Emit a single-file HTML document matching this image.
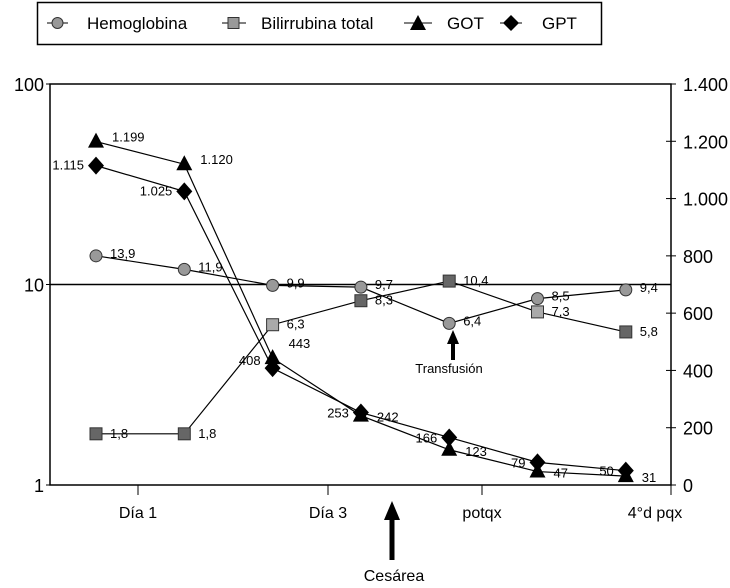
<!DOCTYPE html>
<html><head><meta charset="utf-8"><style>
body{margin:0;background:#fff;}
svg{display:block;font-family:"Liberation Sans",sans-serif;}
</style></head><body>
<svg id="chart" width="730" height="588">
<g>
<rect x="37.5" y="2.5" width="564" height="42" fill="#fff" stroke="#000" stroke-width="1.5"/>
<g><line x1="47" y1="23" x2="68" y2="23" stroke="#000"/><circle cx="57.5" cy="23" r="5.5" fill="#999" stroke="#333"/><text x="87" y="29" font-size="17">Hemoglobina</text></g>
<g><line x1="222" y1="23" x2="246" y2="23" stroke="#000"/><rect x="228" y="17.5" width="11" height="11" fill="#999" stroke="#333"/><text x="261" y="29" font-size="17">Bilirrubina total</text></g>
<g><line x1="404" y1="23" x2="432" y2="23" stroke="#000"/><polygon points="418,15 426,30 410,30" fill="#000"/><text x="447" y="29" font-size="17">GOT</text></g>
<g><line x1="500" y1="23" x2="522" y2="23" stroke="#000"/><polygon points="511,15 519,23 511,31 503,23" fill="#000"/><text x="542" y="29" font-size="17">GPT</text></g>
</g>
<g id="plot"></g>
</svg>
<script>
const categories=["Día 1","","","Día 3","potqx","","4°d pqx"];
const hemoglobina=[13.9,11.9,9.9,9.7,6.4,8.5,9.4];
const bilirrubina=[1.8,1.8,6.3,8.3,10.4,7.3,5.8];
const got=[1199,1120,443,242,123,47,31];
const gpt=[1115,1025,408,253,166,79,50];
const leftTicks=[1,10,100];
const rightTicks=[0,200,400,600,800,1000,1200,1400];
const xTickLabels=["Día 1","Día 3","potqx","4°d pqx"];
const fmt=v=>String(v).replace('.',',');
const fmtK=v=>v>=1000?Math.floor(v/1000)+'.'+String(v%1000).padStart(3,'0'):String(v);
const NS="http://www.w3.org/2000/svg";
const plot=document.getElementById('plot');
const L=50,R=671,T=84,B=485;
const x=i=>96+i*88.3;
const yL=v=>B-(Math.log10(v))*(B-T)/2;
const yR=v=>B-v*(B-T)/1400;
function el(tag,a,parent){const e=document.createElementNS(NS,tag);for(const k in a)e.setAttribute(k,a[k]);(parent||plot).appendChild(e);return e;}
function txt(s,a){const e=el('text',a);e.textContent=s;return e;}
let e;
e=el('rect',{x:L,y:T,width:R-L,height:B-T,fill:'none',stroke:'#000','stroke-width':1.5});


e=el('line',{x1:L,y1:yL(10),x2:R,y2:yL(10),stroke:'#000','stroke-width':1.5});


leftTicks.forEach(v=>{
 e=txt(String(v),{x:L-6,y:yL(v)+7,'font-size':18,'text-anchor':'end'});
 
 
 el('line',{x1:L-4,y1:yL(v),x2:L,y2:yL(v),stroke:'#000'});
});
rightTicks.forEach(v=>{
 el('line',{x1:R-5,y1:yR(v),x2:R+5,y2:yR(v),stroke:'#000'});
 e=txt(fmtK(v),{x:R+12,y:yR(v)+7,'font-size':18});
 
 
});
const xTickPos=[138,328,482,655];
[138,328,482,671].forEach(p=>el('line',{x1:p,y1:B,x2:p,y2:B+10,stroke:'#000'}));
xTickLabels.forEach((s,i)=>{
 e=txt(s,{x:xTickPos[i],y:518,'font-size':16,'text-anchor':'middle'});
 
 
});
function series(name,vals,yf){
 const g=el('g',{});
 
 
 el('polyline',{points:vals.map((v,i)=>x(i)+','+yf(v)).join(' '),fill:'none',stroke:'#000','stroke-width':1.2},g);
 return g;
}
const gHb=series('hemoglobina',hemoglobina,yL);
hemoglobina.forEach((v,i)=>{e=el('circle',{cx:x(i),cy:yL(v),r:6,fill:'#999',stroke:'#333'},gHb);
 txt(fmt(v),{x:x(i)+14,y:yL(v)+2,'font-size':13});});
const gBi=series('bilirrubina',bilirrubina,yL);
bilirrubina.forEach((v,i)=>{const dark=[0,1,3,4,6].includes(i);e=el('rect',{x:x(i)-6,y:yL(v)-6,width:12,height:12,fill:dark?'#666':'#aaa',stroke:'#333'},gBi);
 txt(fmt(v),{x:x(i)+14,y:yL(v)+4,'font-size':13});});
const gGot=series('got',got,yR);
got.forEach((v,i)=>{const cx=x(i),cy=yR(v);e=el('polygon',{points:`${cx},${cy-9} ${cx+8},${cy+6} ${cx-8},${cy+6}`,fill:'#000'},gGot);
 txt(fmtK(v),{x:cx+16,y:cy+(i<2?0:(i==2?-10:6)),'font-size':13});});
const gGpt=series('gpt',gpt,yR);
gpt.forEach((v,i)=>{const cx=x(i),cy=yR(v);e=el('polygon',{points:`${cx},${cy-9} ${cx+8},${cy} ${cx},${cy+9} ${cx-8},${cy}`,fill:'#000'},gGpt);
 txt(fmtK(v),{x:cx-12,y:cy+(i<2?4:(i==2?-3:5)),'font-size':13,'text-anchor':'end'});});
// annotations
e=el('g',{});
el('rect',{x:451,y:340,width:4,height:20,fill:'#000'},e);
el('polygon',{points:'453,330 459,344 447,344',fill:'#000'},e);
const t1=document.createElementNS(NS,'text');t1.setAttribute('x',449);t1.setAttribute('y',373);t1.setAttribute('font-size',13);t1.setAttribute('text-anchor','middle');t1.textContent='Transfusión';e.appendChild(t1);
e=el('g',{});
el('rect',{x:389.5,y:518,width:5,height:42,fill:'#000'},e);
el('polygon',{points:'392,501 400,520 384,520',fill:'#000'},e);
const t2=document.createElementNS(NS,'text');t2.setAttribute('x',394);t2.setAttribute('y',581);t2.setAttribute('font-size',16);t2.setAttribute('text-anchor','middle');t2.textContent='Cesárea';e.appendChild(t2);
</script>
</body></html>
